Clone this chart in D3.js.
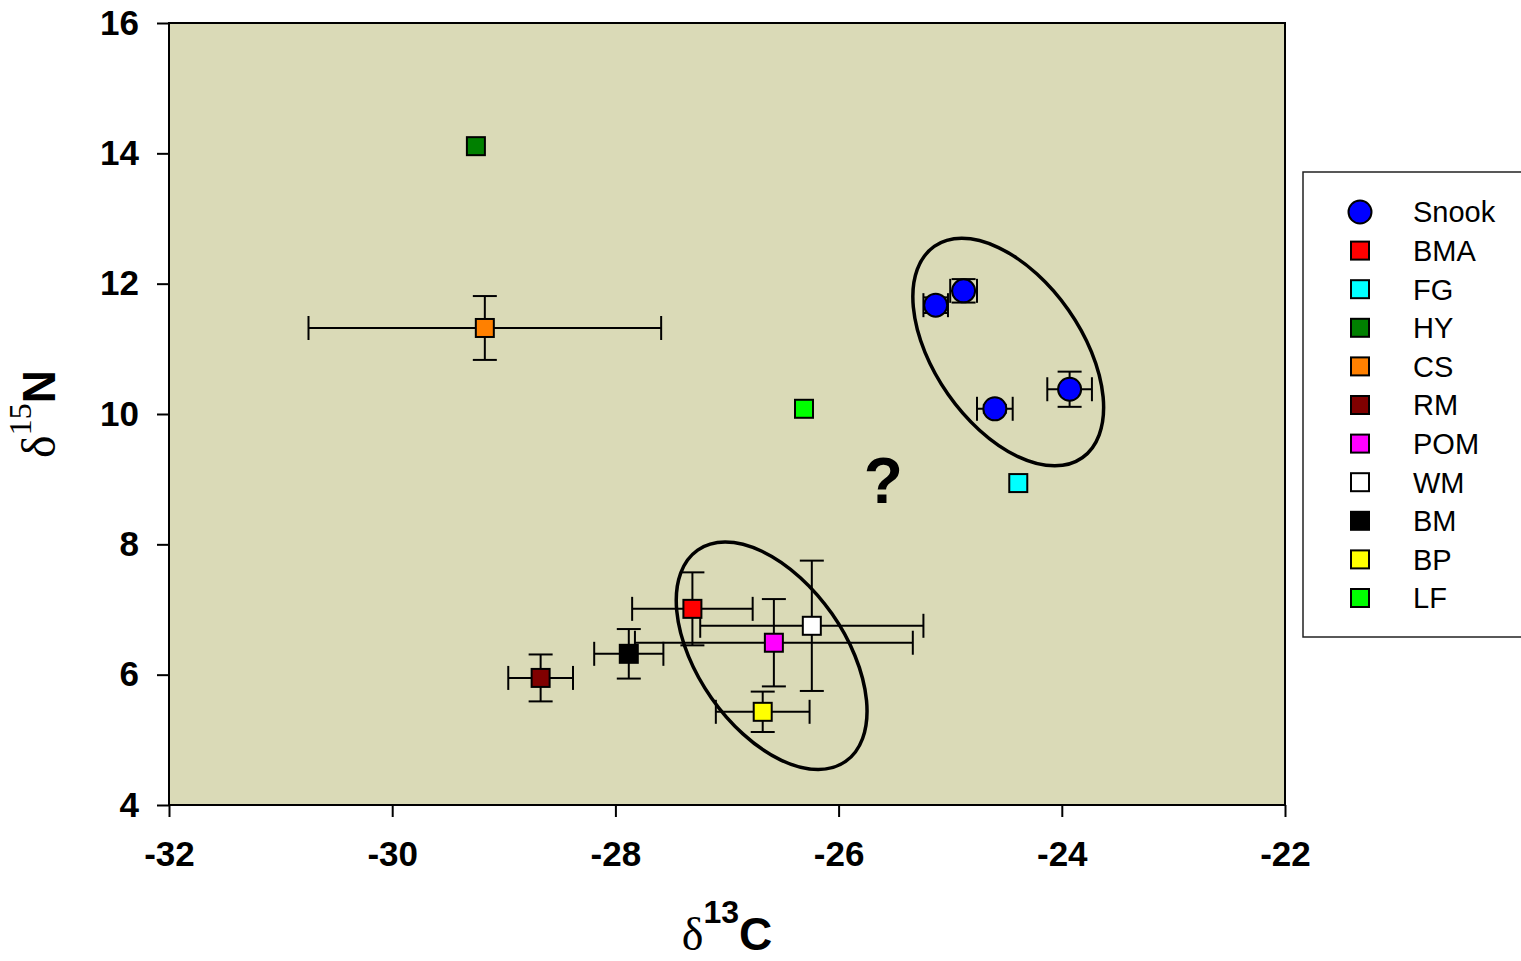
<!DOCTYPE html>
<html lang="en">
<head>
    <meta charset="UTF-8">
    <title>Snook isotopes</title>
    <script src="https://d3js.org/d3.v7.min.js"></script>
    <style>
        body {
	margin: 0;
	background: white;
}

text {
	font-family: Arial, "Liberation Sans", sans-serif;
}
    </style>
</head>
<body>
<div id="chart"></div>
<script>

// snook (circles)
var snookX = [-25.13, -24.88, -24.6, -23.93];
var snookY = [11.67, 11.89, 10.08, 10.38];
var snookXErr = [0.11, 0.12, 0.16, 0.2];
var snookYErr = [0.12, 0.18, 0.06, 0.27];

// sources (squares)
var srcNames = ["BMA", "FG", "HY", "CS", "RM", "POM", "WM", "BM", "BP", "LF"];
var srcColors = ["#ff0000", "#00ffff", "#008000", "#ff8000", "#800000", "#ff00ff", "#ffffff", "#000000", "#ffff00", "#00ff00"];
var srcX = [-27.31, -24.39, -29.25, -29.17, -28.67, -26.58, -26.24, -27.88, -26.68, -26.31];
var srcY = [7.01, 8.94, 14.11, 11.32, 5.95, 6.49, 6.75, 6.32, 5.43, 10.08];
var srcXErr = [0.54, 0, 0, 1.58, 0.29, 1.245, 1.0, 0.31, 0.42, 0];
var srcYErr = [0.56, 0, 0, 0.49, 0.36, 0.67, 1.0, 0.38, 0.31, 0];

var xTicks = [-32, -30, -28, -26, -24, -22];
var yTicks = [4, 6, 8, 10, 12, 14, 16];

// grouping ellipses: centre in data units
var ellCx = [-24.48, -26.6];
var ellCy = [10.95, 6.29];

var width = 1521;
var height = 961;
var margin = { top: 23, right: 236, bottom: 156, left: 169 };

var svg = d3
	.select("#chart")
	.append("svg")
	.attr("width", width)
	.attr("height", height);

var x = d3
	.scaleLinear()
	.domain([-32, -22])
	.range([margin.left, width - margin.right]);

var y = d3
	.scaleLinear()
	.domain([4, 16])
	.range([height - margin.bottom, margin.top]);

svg
	.append("rect")
	.attr("x", x(-32))
	.attr("y", y(16))
	.attr("width", x(-22) - x(-32))
	.attr("height", y(4) - y(16))
	.attr("fill", "#dadab7")
	.attr("stroke", "black")
	.attr("stroke-width", 2);

var xAxis = svg
	.append("g")
	.attr("transform", "translate(0," + y(4) + ")")
	.call(d3.axisBottom(x).tickValues(xTicks).tickFormat((d) => String(d)).tickSize(12).tickPadding(24).tickSizeOuter(0));

var yAxis = svg
	.append("g")
	.attr("transform", "translate(" + x(-32) + ",0)")
	.call(d3.axisLeft(y).tickValues(yTicks).tickFormat((d) => String(d)).tickSize(12).tickPadding(18).tickSizeOuter(0));

[xAxis, yAxis].forEach(function (g) {
	g.select(".domain").remove();
	g.selectAll(".tick line").attr("stroke", "black").attr("stroke-width", 2);
	g.selectAll(".tick text")
		.attr("fill", "black")
		.attr("font-size", 35)
		.attr("font-weight", "bold")
		.style("font-family", "Arial, 'Liberation Sans', sans-serif");
});

// ellipses
var ellA = 129, ellB = 73.5, ellAngle = 55;
svg
	.selectAll(".ell")
	.data(ellCx)
	.join("ellipse")
	.attr("class", "ell")
	.attr("transform", (d, i) => "translate(" + x(d) + "," + y(ellCy[i]) + ") rotate(" + ellAngle + ")")
	.attr("rx", ellA)
	.attr("ry", ellB)
	.attr("fill", "none")
	.attr("stroke", "black")
	.attr("stroke-width", 3.5);

// error bars
var cap = 12;
function errorBars(xs, ys, xe, ye) {
	var g = svg.append("g").attr("stroke", "black").attr("stroke-width", 2);
	xs.forEach(function (cx, i) {
		var cy = ys[i];
		if (xe[i] > 0) {
			var x0 = x(cx - xe[i]), x1 = x(cx + xe[i]), py = y(cy);
			g.append("line").attr("x1", x0).attr("x2", x1).attr("y1", py).attr("y2", py);
			g.append("line").attr("x1", x0).attr("x2", x0).attr("y1", py - cap).attr("y2", py + cap);
			g.append("line").attr("x1", x1).attr("x2", x1).attr("y1", py - cap).attr("y2", py + cap);
		}
		if (ye[i] > 0) {
			var y0 = y(cy - ye[i]), y1 = y(cy + ye[i]), px = x(cx);
			g.append("line").attr("x1", px).attr("x2", px).attr("y1", y0).attr("y2", y1);
			g.append("line").attr("x1", px - cap).attr("x2", px + cap).attr("y1", y0).attr("y2", y0);
			g.append("line").attr("x1", px - cap).attr("x2", px + cap).attr("y1", y1).attr("y2", y1);
		}
	});
}
errorBars(srcX, srcY, srcXErr, srcYErr);
errorBars(snookX, snookY, snookXErr, snookYErr);

// markers
var sq = 18;
svg
	.selectAll(".src")
	.data(srcX)
	.join("rect")
	.attr("class", "src")
	.attr("x", (d) => x(d) - sq / 2)
	.attr("y", (d, i) => y(srcY[i]) - sq / 2)
	.attr("width", sq)
	.attr("height", sq)
	.attr("fill", (d, i) => srcColors[i])
	.attr("stroke", "black")
	.attr("stroke-width", 2);

svg
	.selectAll(".snook")
	.data(snookX)
	.join("circle")
	.attr("class", "snook")
	.attr("cx", (d) => x(d))
	.attr("cy", (d, i) => y(snookY[i]))
	.attr("r", 11.5)
	.attr("fill", "#0000ff")
	.attr("stroke", "black")
	.attr("stroke-width", 2);

// question mark
svg
	.append("text")
	.attr("x", x(-25.6))
	.attr("y", y(8.63))
	.attr("text-anchor", "middle")
	.attr("font-size", 64)
	.attr("font-weight", "bold")
	.text("?");

// axis titles
var xt = svg
	.append("text")
	.attr("x", 727)
	.attr("y", 950)
	.attr("text-anchor", "middle");
xt.append("tspan").style("font-family", "'Liberation Serif', 'DejaVu Serif', serif").attr("font-size", 46).text("δ");
xt.append("tspan").attr("font-size", 32).attr("font-weight", "bold").attr("dy", -27).text("13");
xt.append("tspan").attr("font-size", 46).attr("font-weight", "bold").attr("dy", 27).text("C");

var yt = svg
	.append("text")
	.attr("transform", "translate(55,414) rotate(-90)")
	.attr("text-anchor", "middle");
yt.append("tspan").style("font-family", "'Liberation Serif', 'DejaVu Serif', serif").attr("font-size", 48).text("δ");
yt.append("tspan").style("font-family", "'Liberation Serif', 'DejaVu Serif', serif").attr("font-size", 32).attr("dy", -24).text("15");
yt.append("tspan").attr("font-size", 46).attr("font-weight", "bold").attr("dy", 24).text("N");

// legend
var legNames = ["Snook"].concat(srcNames);
var legColors = ["#0000ff"].concat(srcColors);
var legend = svg.append("g");
legend
	.append("rect")
	.attr("x", 1303)
	.attr("y", 172)
	.attr("width", 240)
	.attr("height", 465)
	.attr("fill", "white")
	.attr("stroke", "#222")
	.attr("stroke-width", 1.5);

var legY = d3.scaleLinear().domain([0, legNames.length - 1]).range([212, 598]);
var items = legend
	.selectAll(".item")
	.data(legNames)
	.join("g")
	.attr("class", "item")
	.attr("transform", (d, i) => "translate(1360," + legY(i) + ")");

items.each(function (d, i) {
	var g = d3.select(this);
	if (i === 0) {
		g.append("circle").attr("r", 11.5).attr("fill", legColors[i]).attr("stroke", "black").attr("stroke-width", 2);
	} else {
		g.append("rect")
			.attr("x", -sq / 2)
			.attr("y", -sq / 2)
			.attr("width", sq)
			.attr("height", sq)
			.attr("fill", legColors[i])
			.attr("stroke", "black")
			.attr("stroke-width", 2);
	}
	g.append("text")
		.attr("x", 53)
		.attr("dy", "0.36em")
		.attr("font-size", 29)
		.text(d);
});

</script>
</body>
</html>
